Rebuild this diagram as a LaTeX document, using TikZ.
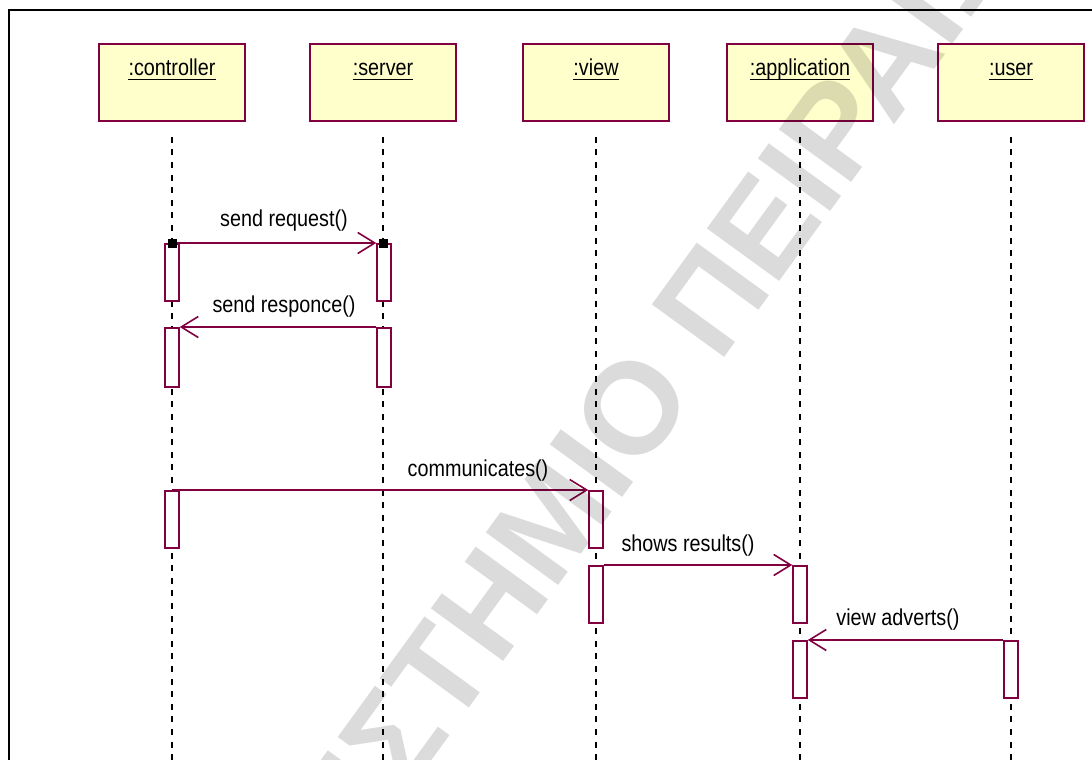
\documentclass[tikz,border=0pt]{standalone}
\usepackage{fontspec}
\setmainfont{Liberation Sans}[FakeStretch=0.86]
\newfontfamily\wmfont{Liberation Sans}
\usetikzlibrary{arrows.meta}
\definecolor{umlred}{RGB}{128,0,64}
\definecolor{umlfill}{RGB}{255,255,204}
\tikzset{
  obj/.style={draw=umlred, fill=umlfill, line width=1.8pt, minimum width=146pt, minimum height=77pt, inner sep=0pt, anchor=north},
  objtext/.style={font=\fontsize{23}{27}\selectfont, inner sep=0pt, anchor=base},
  lifeline/.style={draw=black, line width=1.6pt, dash pattern=on 6pt off 6.6pt},
  bar/.style={draw=umlred, fill=white, line width=1.5pt, minimum width=14pt, inner sep=0pt, anchor=north},
  msg/.style={draw=umlred, line width=1.6pt, -{Straight Barb[length=17pt,width=21pt,line width=1.6pt]}},
  lbl/.style={font=\fontsize{23}{27}\selectfont, inner sep=0pt, anchor=base},
  endsq/.style={fill=black, minimum size=9pt, inner sep=0pt},
  watermark/.style={font=\wmfont\bfseries\fontsize{130}{136}\selectfont, text=black, opacity=0.14, inner sep=0pt, anchor=base west}
}
\begin{document}
\begin{tikzpicture}[x=1pt,y=-1pt]
\useasboundingbox (0,0) rectangle (1092,760);
\clip (0,0) rectangle (1092,760);
\fill[white] (0,0) rectangle (1092,760);
% frame
\draw[black, line width=2.6pt] (9,760) -- (9,10) -- (1092,10);
% objects
\foreach \n/\x/\t in {ctl/172/:controller, srv/383/:server, vw/596/:view, app/800/:application, usr/1011/:user}{
  \node[obj] (\n) at (\x,43) {};
  \node[objtext] (\n-t) at (\x,75) {\t};
  \draw[black, line width=1.3pt] ([yshift=-4.5pt]\n-t.base west) -- ([yshift=-4.5pt]\n-t.base east);
}
\coordinate (bottom) at (0,760);
% lifelines
\foreach \n in {ctl,srv,vw,app,usr}{
  \draw[lifeline] ([yshift=-15pt]\n.south) -- (\n.south |- bottom);
}
% activation bars
\node[bar, minimum height=57pt] (c1) at (172,243) {};
\node[bar, minimum height=57pt] (s1) at (384,243) {};
\node[bar, minimum height=59pt] (c2) at (172,327) {};
\node[bar, minimum height=59pt] (s2) at (384,327) {};
\node[bar, minimum height=57pt] (c3) at (172,490) {};
\node[bar, minimum height=57pt] (v1) at (596,490) {};
\node[bar, minimum height=57pt, line width=1.8pt] (v2) at (596,565) {};
\node[bar, minimum height=57pt] (a1) at (800,565) {};
\node[bar, minimum height=57pt] (a2) at (800,640) {};
\node[bar, minimum height=57pt] (u1) at (1011,640) {};
% messages
\draw[msg] (c1.north) -- (s1.north west);
\node[endsq] (sq1) at (c1.north) {};
\node[endsq] (sq2) at ([xshift=-1pt]s1.north) {};
\draw[msg] (s2.north west) -- (c2.north east);
\draw[msg] (c3.north) -- (v1.north west);
\draw[msg] (v2.north east) -- (a1.north west);
\draw[msg] (u1.north west) -- (a2.north east);
% labels
\node[lbl] (l1) at (284,226) {send request()};
\node[lbl] (l2) at (284,312) {send responce()};
\node[lbl] (l3) at (478,476) {communicates()};
\node[lbl] (l4) at (688,551) {shows results()};
\node[lbl] (l5) at (898,625) {view adverts()};
% watermark
\node[watermark, rotate=54] (wm) at (406,796) {\llap{ΠΑΝΕΠΙ}ΣΤΗΜΙΟ ΠΕΙΡΑΙΩΣ};
\end{tikzpicture}
\end{document}
